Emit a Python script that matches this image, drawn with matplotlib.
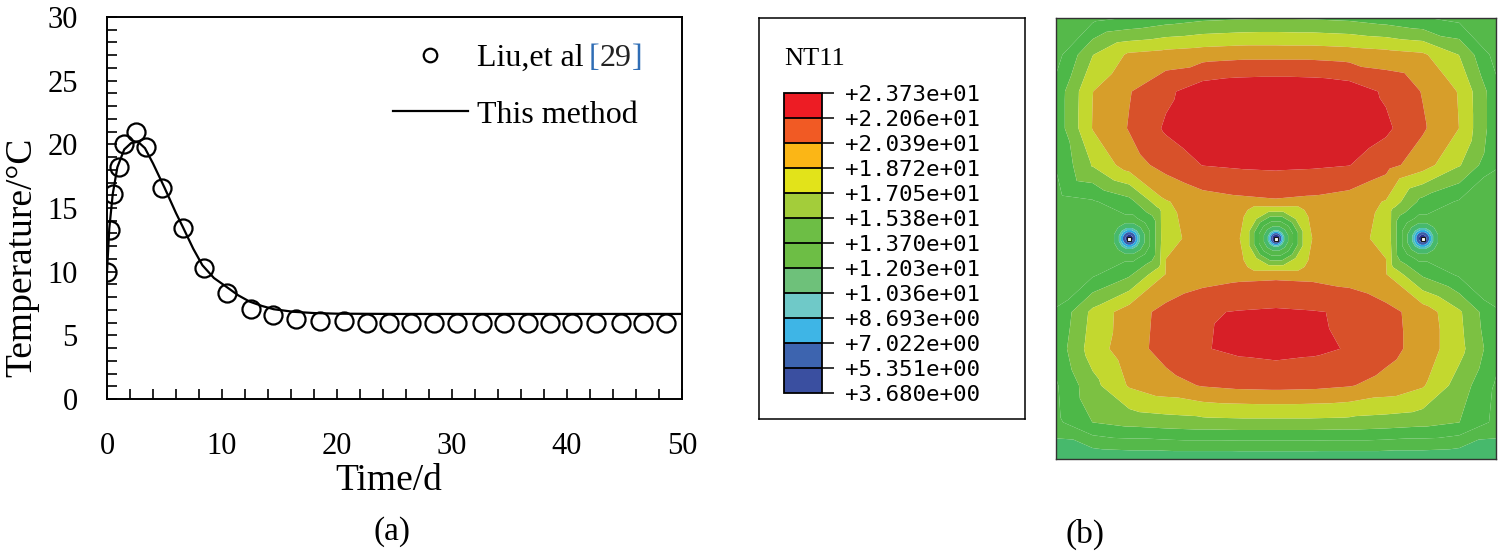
import numpy as np
import matplotlib
matplotlib.use('Agg')
import matplotlib.pyplot as plt
import matplotlib.tri as mtri
from matplotlib.colors import ListedColormap, BoundaryNorm
from matplotlib.cm import ScalarMappable
from matplotlib.ticker import MultipleLocator

plt.rcParams['font.family'] = ['Liberation Serif', 'DejaVu Serif']

# ============================================================
# (a) Temperature history
# ============================================================
T_LIU = [0, 0.3, 0.5, 1.0, 1.5, 2.5, 3.4, 4.8, 6.6, 8.4, 10.4, 12.5, 14.4, 16.4,
         18.5, 20.6, 22.6, 24.5, 26.4, 28.4, 30.4, 32.6, 34.5, 36.6, 38.5, 40.4,
         42.5, 44.7, 46.6, 48.6]
TEMP_LIU = [10.0, 13.3, 16.1, 18.2, 20.0, 21.0, 19.8, 16.6, 13.4, 10.3, 8.3, 7.1,
            6.6, 6.3, 6.1, 6.15, 6.0, 6.0, 6.0, 6.0, 6.0, 6.0, 6.0, 6.0, 6.0, 6.0,
            6.0, 6.0, 6.0, 6.0]

T_MODEL = [0, 0.2, 0.5, 0.9, 1.5, 2.1, 2.7, 3.3, 4.0, 5.0, 6.0, 6.6, 7.5, 8.3,
           9.3, 10.4, 11.4, 12.4, 13.5, 14.5, 16.2, 18.0, 20.0, 25.0, 50.0]
TEMP_MODEL = [10.0, 13.4, 16.1, 18.2, 19.6, 20.1, 20.2, 19.7, 18.5, 16.6, 14.6,
              13.5, 11.8, 10.5, 9.5, 8.8, 8.15, 7.65, 7.3, 7.05, 6.85, 6.75, 6.7,
              6.68, 6.68]

# ============================================================
# (b) NT11 field (values read on a 13 x 13 grid, top row first)
# ============================================================
NT11_BOUNDS = [3.680, 5.351, 7.022, 8.693, 10.36, 12.03, 13.70, 15.38, 17.05,
               18.72, 20.39, 22.06, 23.73]
LEGEND_COLORS = ['#3A4FA0', '#3D64AF', '#3EB5E6', '#6FC9C8', '#6EC17A', '#6DBE45',
                 '#6DBE45', '#A3CD3A', '#E2E31A', '#FBB616', '#F15A24', '#ED1C24']
FIELD_COLORS = ['#2A3190', '#3B5BA9', '#2AA8E0', '#4FC1B9', '#47B96C', '#55B94A',
                '#4DB848', '#7CC142', '#C3D82F', '#D79E2A', '#D8512A', '#D71F27']

T_GRID = [
    [12.8, 13.2, 13.8, 14.5, 15.0, 15.2, 15.3, 15.2, 15.0, 14.5, 13.8, 13.2, 12.8],
    [13.0, 17.0, 19.0, 19.4, 19.7, 19.9, 19.9, 19.9, 19.7, 19.4, 19.0, 17.0, 13.0],
    [14.3, 18.7, 20.3, 21.7, 23.0, 23.4, 23.5, 23.4, 23.0, 21.8, 20.3, 18.6, 14.3],
    [14.3, 18.8, 20.5, 22.3, 23.3, 23.6, 23.7, 23.6, 23.3, 22.4, 20.6, 18.7, 14.3],
    [13.8, 17.2, 19.6, 21.0, 22.1, 22.3, 22.4, 22.3, 22.1, 21.0, 19.5, 17.2, 13.8],
    [13.0, 13.5, 14.8, 18.6, 19.6, 20.0, 20.2, 20.0, 19.6, 18.6, 14.8, 13.5, 13.0],
    [13.0, 13.3, 3.7, 18.5, 19.0, 18.8, 3.7, 18.8, 19.0, 18.5, 3.7, 13.3, 13.0],
    [13.0, 13.5, 15.2, 18.9, 19.6, 20.0, 20.1, 20.0, 19.6, 18.9, 15.2, 13.5, 13.0],
    [13.8, 17.5, 19.6, 20.9, 21.9, 22.15, 22.3, 22.15, 21.9, 20.9, 19.7, 17.3, 13.8],
    [14.3, 17.9, 19.7, 21.0, 21.95, 22.4, 22.6, 22.4, 21.95, 21.0, 19.7, 17.6, 14.3],
    [13.5, 16.5, 18.9, 19.8, 20.5, 20.8, 20.9, 20.8, 20.5, 19.8, 18.9, 16.3, 13.5],
    [13.3, 15.4, 16.0, 16.3, 16.5, 16.6, 16.6, 16.6, 16.5, 16.3, 16.0, 15.4, 13.3],
    [10.4, 10.6, 10.8, 10.8, 10.8, 10.8, 10.8, 10.8, 10.8, 10.8, 10.8, 10.6, 10.4],
]

# cooling pipes (grid column / row) and the temperature rings around them
PIPE_COLS = [2, 6, 10]
PIPE_ROW = 6
SIDE_RING_R = [0.012, 0.025, 0.045]
SIDE_RING_T = [6.0, 10.5, 13.3]
CENTER_RING_R = [0.010, 0.020, 0.040, 0.055, 0.066]
CENTER_RING_T = [5.6, 10.8, 13.7, 15.9, 17.5]


def field_points():
    n = len(T_GRID)
    xs = np.linspace(0, 1, n)
    ys = np.linspace(1, 0, n)
    gx, gy = np.meshgrid(xs, ys)
    px, py, pt = list(gx.ravel()), list(gy.ravel()), list(np.array(T_GRID).ravel())
    ang = np.linspace(0, 2 * np.pi, 12, endpoint=False) + np.pi / 12
    for c in PIPE_COLS:
        radii, temps = (CENTER_RING_R, CENTER_RING_T) if c == 6 else (SIDE_RING_R, SIDE_RING_T)
        for r, t in zip(radii, temps):
            px += list(xs[c] + r * np.cos(ang))
            py += list(ys[PIPE_ROW] + r * np.sin(ang))
            pt += [t] * len(ang)
    return np.array(px), np.array(py), np.array(pt), xs, ys


fig = plt.figure(figsize=(15, 5.57), dpi=100)
W, H = 1500.0, 557.0


def px_axes(x0, y0, x1, y1):
    return fig.add_axes([x0 / W, 1 - y1 / H, (x1 - x0) / W, (y1 - y0) / H])


# ---------------- (a) ----------------
ax = px_axes(107, 17, 682, 399)
ax.plot(T_MODEL, TEMP_MODEL, '-', color='black', lw=1.6, label='This method')
ax.plot(T_LIU, TEMP_LIU, 'o', mfc='none', mec='black', mew=1.6, ms=13,
        label='Liu,et al')
ax.set_xlim(0, 50)
ax.set_ylim(0, 30)
ax.xaxis.set_major_locator(MultipleLocator(10))
ax.xaxis.set_minor_locator(MultipleLocator(2))
ax.yaxis.set_major_locator(MultipleLocator(5))
ax.yaxis.set_minor_locator(MultipleLocator(1))
ax.tick_params(which='both', direction='in', length=7, width=1.2,
               top=False, right=False)
ax.tick_params(axis='x', which='major', labelsize=22, pad=24)
ax.tick_params(axis='y', which='major', labelsize=22, pad=21)
for s in ax.spines.values():
    s.set_linewidth(1.4)
ax.set_xlabel('Time/d', fontsize=27)
ax.set_ylabel('Temperature/°C', fontsize=27)
ax.xaxis.set_label_coords(0.49, -0.168)
ax.yaxis.set_label_coords(-0.117, 0.372)

h_line, h_pts = ax.get_lines()
leg = ax.legend([h_pts, h_line], ['Liu,et al', 'This method'], loc='upper left',
                bbox_to_anchor=(0.497, 0.93), frameon=False, fontsize=23,
                handlelength=2.35, handletextpad=0.3, labelspacing=0.85,
                borderpad=0, borderaxespad=0, markerscale=0.75)

# "[29]" reference tag after the first legend entry
fig.canvas.draw()
bb = leg.get_texts()[0].get_window_extent()
a1 = ax.annotate('[', xy=(bb.x1 + 5, bb.y0), xycoords='figure pixels',
                 va='bottom', ha='left', fontsize=23, color='#2F6DB5')
a2 = ax.annotate('29', xy=(1, 0), xycoords=a1, va='bottom', ha='left',
                 fontsize=23, color='#222222')
ax.annotate(']', xy=(1, 0), xycoords=a2, va='bottom', ha='left',
            fontsize=23, color='#2F6DB5')

fig.text(392 / W, 1 - 532 / H, '(a)', fontsize=24, ha='center', va='center')
fig.text(1085 / W, 1 - 534 / H, '(b)', fontsize=24, ha='center', va='center')

# ---------------- (b) legend box ----------------
box = px_axes(759, 18, 1025, 419)
box.set_xticks([])
box.set_yticks([])
for s in box.spines.values():
    s.set_linewidth(1.1)
fig.text(784 / W, 1 - 59 / H, 'NT11', fontsize=19, ha='left', va='center')

cax = px_axes(784, 93, 822, 393)
cmap_leg = ListedColormap(LEGEND_COLORS)
norm = BoundaryNorm(NT11_BOUNDS, cmap_leg.N)
cb = fig.colorbar(ScalarMappable(norm=norm, cmap=cmap_leg), cax=cax,
                  ticks=NT11_BOUNDS, drawedges=True)
cb.ax.set_yticklabels([format(v, '+.3e') for v in NT11_BOUNDS],
                      fontfamily='DejaVu Sans Mono', fontsize=16.2)
cb.ax.tick_params(direction='out', length=8.6, width=1.1, pad=8, color='black')
cb.outline.set_linewidth(1.3)
cb.dividers.set_linewidth(1.3)

# ---------------- (b) contour field ----------------
fx = px_axes(1056, 18, 1496, 459)
px, py, pt, xs, ys = field_points()
tri = mtri.Triangulation(px, py)
fx.tricontourf(tri, pt, levels=NT11_BOUNDS, colors=FIELD_COLORS, antialiased=True)
fx.plot(xs[PIPE_COLS], [ys[PIPE_ROW]] * len(PIPE_COLS), 's', ms=3.2,
        mfc='white', mec='#1a1a1a', mew=0.8)
fx.set_xlim(0, 1)
fx.set_ylim(0, 1)
fx.set_xticks([])
fx.set_yticks([])
for s in fx.spines.values():
    s.set_linewidth(1.0)
    s.set_color('#333333')

fig.savefig('out.png', dpi=100)
